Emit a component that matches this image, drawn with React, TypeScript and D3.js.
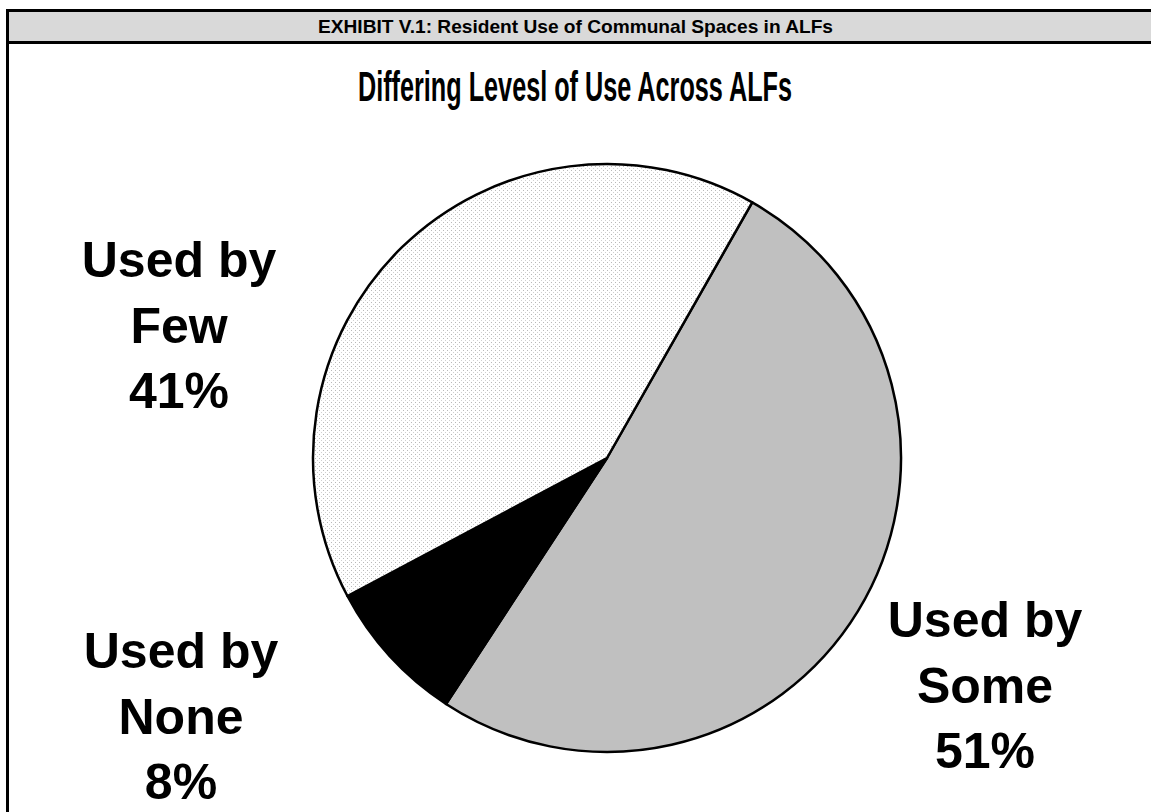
import React from "react";
import * as d3 from "d3";

const categories = ["Used by Some", "Used by None", "Used by Few"];
const labelLine1 = ["Used by", "Used by", "Used by"];
const labelLine2 = ["Some", "None", "Few"];
const values = [51, 8, 41];
const percentLabels = ["51%", "8%", "41%"];
const fills = ["#c0c0c0", "#000000", "url(#dots)"];

const header = "EXHIBIT V.1: Resident Use of Communal Spaces in ALFs";
const chartTitle = "Differing Levesl of Use Across ALFs";

const W = 1151;
const H = 812;
const cx = 607;
const cy = 458;
const R = 294;
const startDeg = 29.6;
// label anchors (center x, first baseline)
const labelPos = [
  { x: 985, y: 637 },
  { x: 181, y: 668 },
  { x: 179, y: 277 },
];
const lineGap = 65.5;

export default function App() {
  const pie = d3
    .pie<number>()
    .sort(null)
    .startAngle((startDeg * Math.PI) / 180)
    .endAngle((startDeg * Math.PI) / 180 + 2 * Math.PI);
  const arcs = pie(values);
  const arc = d3.arc<d3.PieArcDatum<number>>().innerRadius(0).outerRadius(R);
  const font = "'Liberation Sans', Arial, Helvetica, sans-serif";

  return (
    <svg
      width={W}
      height={H}
      style={{ position: "absolute", left: 0, top: 0, background: "#fff" }}
    >
      <defs>
        <pattern id="dots" width={4} height={4} patternUnits="userSpaceOnUse">
          <rect width={4} height={4} fill="#ffffff" />
          <rect x={0} y={0} width={1} height={1} fill="#b8b8b8" />
          <rect x={2} y={2} width={1} height={1} fill="#d0d0d0" />
        </pattern>
      </defs>
      <rect x={0} y={0} width={W} height={H} fill="#fff" />
      {/* frame */}
      <rect x={9} y={11} width={W - 9} height={31} fill="#d9d9d9" />
      <rect x={6} y={9} width={W - 6} height={3} fill="#000" />
      <rect x={6} y={41} width={W - 6} height={3} fill="#000" />
      <rect x={6} y={9} width={3} height={H - 9} fill="#000" />
      <text
        x={575.5}
        y={33}
        textAnchor="middle"
        fontFamily={font}
        fontWeight="bold"
        fontSize={19}
        textLength={515}
        lengthAdjust="spacingAndGlyphs"
        fill="#000"
      >
        {header}
      </text>
      <text
        x={575}
        y={101}
        textAnchor="middle"
        fontFamily={font}
        fontWeight="bold"
        fontSize={42}
        textLength={434}
        lengthAdjust="spacingAndGlyphs"
        fill="#000"
      >
        {chartTitle}
      </text>
      <g transform={`translate(${cx},${cy})`}>
        {arcs.map((a, i) => (
          <path
            key={categories[i]}
            d={arc(a) || ""}
            fill={fills[i]}
            stroke="#000"
            strokeWidth={2.5}
            strokeLinejoin="round"
          />
        ))}
      </g>
      {categories.map((c, i) => (
        <text
          key={c}
          textAnchor="middle"
          fontFamily={font}
          fontWeight="bold"
          fontSize={50}
          fill="#000"
        >
          <tspan x={labelPos[i].x} y={labelPos[i].y}>
            {labelLine1[i]}
          </tspan>
          <tspan x={labelPos[i].x} y={labelPos[i].y + lineGap}>
            {labelLine2[i]}
          </tspan>
          <tspan x={labelPos[i].x} y={labelPos[i].y + 2 * lineGap}>
            {percentLabels[i]}
          </tspan>
        </text>
      ))}
    </svg>
  );
}
